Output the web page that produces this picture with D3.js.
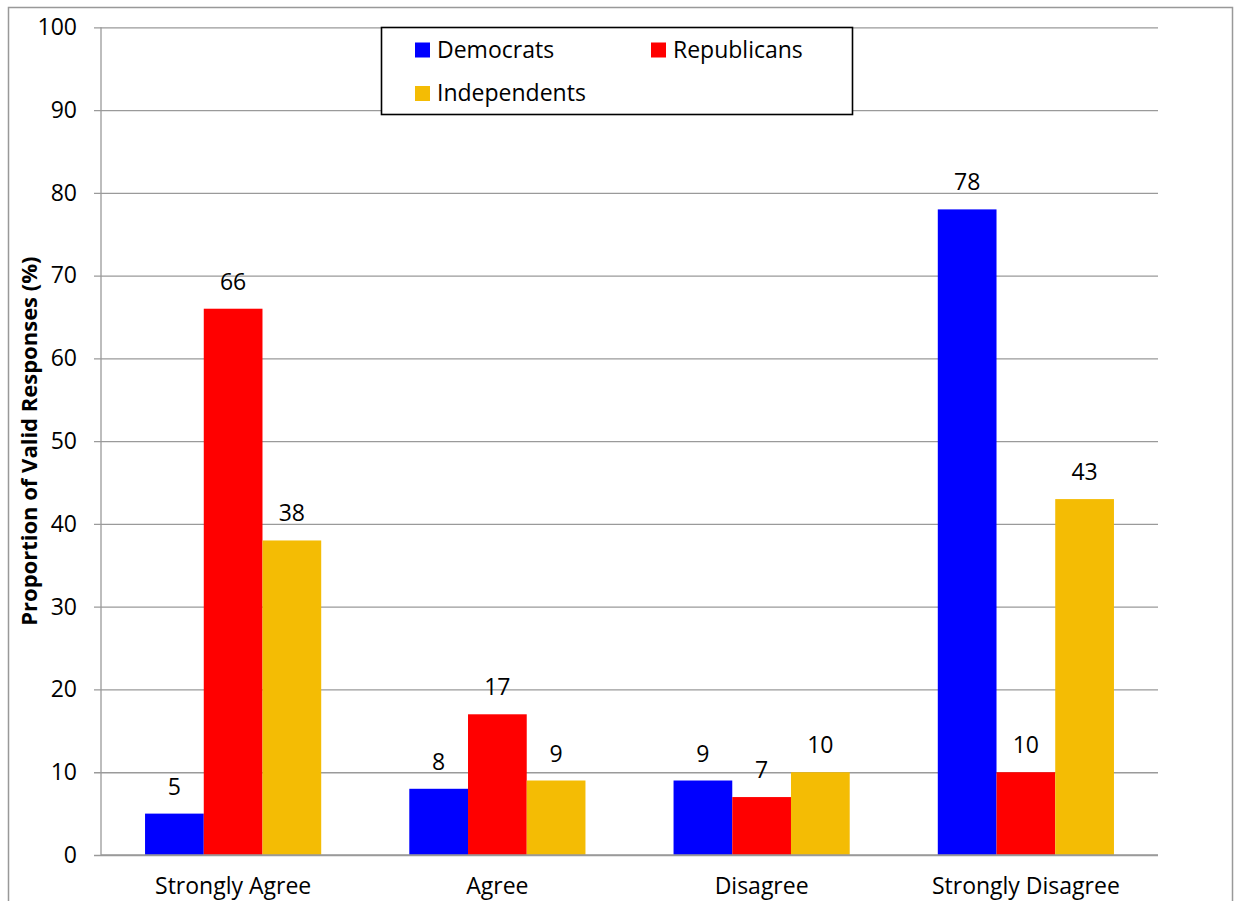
<!DOCTYPE html>
<html>
<head>
<meta charset="utf-8">
<script src="https://cdn.jsdelivr.net/npm/d3@7"></script>
<style>
  html, body { margin: 0; padding: 0; background: #fff; }
  svg { display: block; font-family: "Open Sans", sans-serif; }
</style>
</head>
<body>
<svg id="chart" width="1235" height="901"></svg>
<script>
// Survey responses by party (% of valid responses)
const categories = ["Strongly Agree", "Agree", "Disagree", "Strongly Disagree"];
const seriesNames = ["Democrats", "Republicans", "Independents"];
const democrats = [5, 8, 9, 78];
const republicans = [66, 17, 7, 10];
const independents = [38, 9, 10, 43];
const seriesColors = ["#0000ff", "#ff0000", "#f4bc04"];
const yTicks = [0, 10, 20, 30, 40, 50, 60, 70, 80, 90, 100];

const seriesValues = [democrats, republicans, independents];
const FONT = "'Open Sans', sans-serif";
const FS = 23;

const svg = d3.select("#chart");
const plot = { left: 101, right: 1158, top: 27.3, bottom: 855 };

// Outer chart frame
svg.append("rect")
  .attr("x", 8.5).attr("y", 7.5)
  .attr("width", 1224).attr("height", 910)
  .attr("fill", "none").attr("stroke", "#999").attr("stroke-width", 1.5);

const x = d3.scaleBand()
  .domain(categories)
  .range([plot.left, plot.right])
  .paddingInner(1 / 3)
  .paddingOuter(1 / 6);

const xInner = d3.scaleBand()
  .domain(seriesNames)
  .range([0, x.bandwidth()]);

const y = d3.scaleLinear().domain([0, 100]).range([plot.bottom, plot.top]);

// Horizontal gridlines with tick labels
const yAxis = d3.axisLeft(y)
  .tickValues(yTicks)
  .tickSize(-(plot.right - plot.left))
  .tickSizeOuter(0);

const gy = svg.append("g")
  .attr("transform", `translate(${plot.left},0)`)
  .call(yAxis);
gy.select(".domain").remove();
gy.selectAll(".tick line")
  .attr("x1", -7)
  .attr("stroke", "#9a9a9a").attr("stroke-width", 1.3);
gy.selectAll(".tick text")
  .attr("font-size", FS).attr("fill", "#000")
  .attr("font-family", FONT)
  .attr("x", -24);

// Vertical axis line
svg.append("line")
  .attr("x1", plot.left).attr("x2", plot.left)
  .attr("y1", plot.top).attr("y2", plot.bottom)
  .attr("stroke", "#9a9a9a").attr("stroke-width", 1.3);

// Bars
const groups = svg.append("g").selectAll("g")
  .data(categories)
  .join("g")
  .attr("transform", d => `translate(${x(d)},0)`);

groups.each(function (cat, ci) {
  const g = d3.select(this);
  seriesNames.forEach((s, si) => {
    const v = seriesValues[si][ci];
    g.append("rect")
      .attr("x", xInner(s))
      .attr("y", y(v))
      .attr("width", xInner.bandwidth())
      .attr("height", y(0) - y(v))
      .attr("fill", seriesColors[si]);
  });
});

// Bottom axis line drawn over bar bases
svg.append("line")
  .attr("x1", plot.left).attr("x2", plot.right)
  .attr("y1", y(0)).attr("y2", y(0))
  .attr("stroke", "#9a9a9a").attr("stroke-width", 1.3);

// Value labels
groups.each(function (cat, ci) {
  const g = d3.select(this);
  seriesNames.forEach((s, si) => {
    const v = seriesValues[si][ci];
    g.append("text")
      .attr("x", xInner(s) + xInner.bandwidth() / 2)
      .attr("y", y(v) - 19)
      .attr("text-anchor", "middle")
      .attr("font-size", FS)
      .attr("fill", "#000")
      .text(v);
  });
});

// Category labels
svg.append("g").selectAll("text")
  .data(categories)
  .join("text")
  .attr("x", d => x(d) + x.bandwidth() / 2)
  .attr("y", 894)
  .attr("text-anchor", "middle")
  .attr("font-size", FS)
  .attr("fill", "#000")
  .text(d => d);

// Y axis title
svg.append("text")
  .attr("transform", `translate(37,${(plot.top + plot.bottom) / 2}) rotate(-90)`)
  .attr("text-anchor", "middle")
  .attr("font-size", 22)
  .attr("font-weight", "bold")
  .attr("fill", "#000")
  .text("Proportion of Valid Responses (%)");

// Legend
const legend = svg.append("g");
legend.append("rect")
  .attr("x", 381.5).attr("y", 27.5)
  .attr("width", 471).attr("height", 87)
  .attr("fill", "#fff").attr("stroke", "#000").attr("stroke-width", 1.6);

const legendPos = [
  { x: 415, y: 42.5 },
  { x: 651, y: 42.5 },
  { x: 415, y: 86 }
];
seriesNames.forEach((s, i) => {
  const p = legendPos[i];
  legend.append("rect")
    .attr("x", p.x).attr("y", p.y)
    .attr("width", 15).attr("height", 15)
    .attr("fill", seriesColors[i]);
  legend.append("text")
    .attr("x", p.x + 22).attr("y", p.y + 15)
    .attr("font-size", FS)
    .attr("fill", "#000")
    .text(s);
});
</script>
</body>
</html>
